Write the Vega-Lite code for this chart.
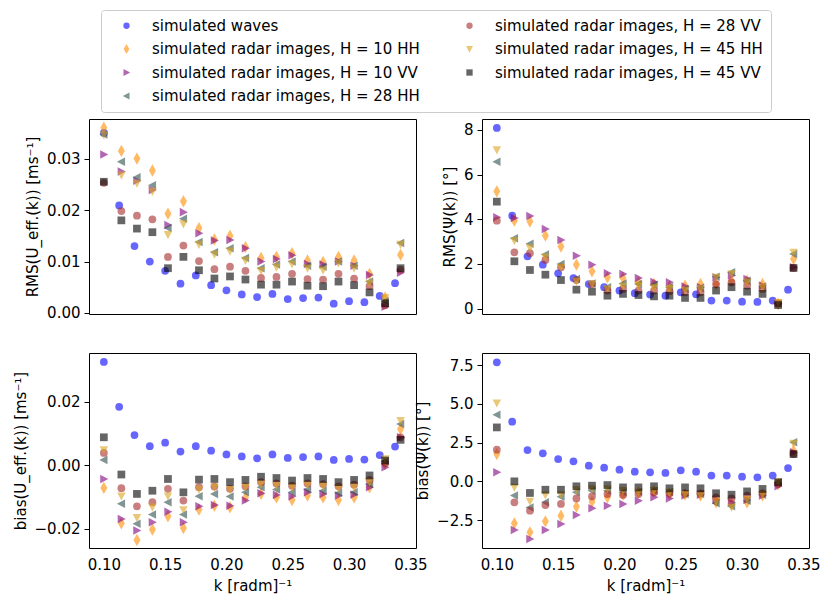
{
  "$schema": "https://vega.github.io/schema/vega-lite/v6.json",
  "background": "white",
  "padding": {"left": 12, "top": 9, "right": 5, "bottom": 5},
  "data": {
    "values": [
      {"series": "simulated waves", "k": 0.1, "rmsU": 0.035, "rmsPsi": 8.09, "biasU": 0.0325, "biasPsi": 7.68},
      {"series": "simulated waves", "k": 0.1125, "rmsU": 0.0209, "rmsPsi": 4.16, "biasU": 0.0184, "biasPsi": 3.85},
      {"series": "simulated waves", "k": 0.125, "rmsU": 0.013, "rmsPsi": 2.34, "biasU": 0.0095, "biasPsi": 2.02},
      {"series": "simulated waves", "k": 0.1375, "rmsU": 0.01, "rmsPsi": 1.97, "biasU": 0.006, "biasPsi": 1.81},
      {"series": "simulated waves", "k": 0.15, "rmsU": 0.0082, "rmsPsi": 1.58, "biasU": 0.0071, "biasPsi": 1.44},
      {"series": "simulated waves", "k": 0.1625, "rmsU": 0.0057, "rmsPsi": 1.37, "biasU": 0.0043, "biasPsi": 1.29},
      {"series": "simulated waves", "k": 0.175, "rmsU": 0.0073, "rmsPsi": 1.1, "biasU": 0.006, "biasPsi": 1.01},
      {"series": "simulated waves", "k": 0.1875, "rmsU": 0.0054, "rmsPsi": 0.96, "biasU": 0.0046, "biasPsi": 0.88},
      {"series": "simulated waves", "k": 0.2, "rmsU": 0.0044, "rmsPsi": 0.81, "biasU": 0.0034, "biasPsi": 0.75},
      {"series": "simulated waves", "k": 0.2125, "rmsU": 0.0036, "rmsPsi": 0.69, "biasU": 0.0028, "biasPsi": 0.62},
      {"series": "simulated waves", "k": 0.225, "rmsU": 0.0031, "rmsPsi": 0.63, "biasU": 0.0022, "biasPsi": 0.58},
      {"series": "simulated waves", "k": 0.2375, "rmsU": 0.0037, "rmsPsi": 0.58, "biasU": 0.0034, "biasPsi": 0.54},
      {"series": "simulated waves", "k": 0.25, "rmsU": 0.0027, "rmsPsi": 0.73, "biasU": 0.0023, "biasPsi": 0.71},
      {"series": "simulated waves", "k": 0.2625, "rmsU": 0.0029, "rmsPsi": 0.64, "biasU": 0.0026, "biasPsi": 0.62},
      {"series": "simulated waves", "k": 0.275, "rmsU": 0.003, "rmsPsi": 0.36, "biasU": 0.0028, "biasPsi": 0.37},
      {"series": "simulated waves", "k": 0.2875, "rmsU": 0.0018, "rmsPsi": 0.36, "biasU": 0.0017, "biasPsi": 0.37},
      {"series": "simulated waves", "k": 0.3, "rmsU": 0.0023, "rmsPsi": 0.31, "biasU": 0.002, "biasPsi": 0.3},
      {"series": "simulated waves", "k": 0.3125, "rmsU": 0.0021, "rmsPsi": 0.3, "biasU": 0.0018, "biasPsi": 0.26},
      {"series": "simulated waves", "k": 0.325, "rmsU": 0.0033, "rmsPsi": 0.36, "biasU": 0.0032, "biasPsi": 0.37},
      {"series": "simulated waves", "k": 0.3375, "rmsU": 0.0058, "rmsPsi": 0.85, "biasU": 0.0059, "biasPsi": 0.86},

      {"series": "simulated radar images, H = 10 HH", "k": 0.1, "rmsU": 0.036, "rmsPsi": 5.25, "biasU": -0.0071, "biasPsi": 1.76},
      {"series": "simulated radar images, H = 10 HH", "k": 0.1143, "rmsU": 0.0315, "rmsPsi": 3.94, "biasU": -0.0182, "biasPsi": -2.71},
      {"series": "simulated radar images, H = 10 HH", "k": 0.127, "rmsU": 0.03, "rmsPsi": 3.9, "biasU": -0.0235, "biasPsi": -3.29},
      {"series": "simulated radar images, H = 10 HH", "k": 0.1396, "rmsU": 0.0277, "rmsPsi": 3.27, "biasU": -0.0202, "biasPsi": -2.58},
      {"series": "simulated radar images, H = 10 HH", "k": 0.1523, "rmsU": 0.0193, "rmsPsi": 2.78, "biasU": -0.016, "biasPsi": -2.22},
      {"series": "simulated radar images, H = 10 HH", "k": 0.1649, "rmsU": 0.0217, "rmsPsi": 1.97, "biasU": -0.0197, "biasPsi": -1.63},
      {"series": "simulated radar images, H = 10 HH", "k": 0.1776, "rmsU": 0.0165, "rmsPsi": 1.67, "biasU": -0.0139, "biasPsi": -1.31},
      {"series": "simulated radar images, H = 10 HH", "k": 0.1902, "rmsU": 0.0143, "rmsPsi": 1.4, "biasU": -0.0127, "biasPsi": -1.03},
      {"series": "simulated radar images, H = 10 HH", "k": 0.2029, "rmsU": 0.015, "rmsPsi": 1.37, "biasU": -0.0132, "biasPsi": -0.86},
      {"series": "simulated radar images, H = 10 HH", "k": 0.2155, "rmsU": 0.0128, "rmsPsi": 1.18, "biasU": -0.0101, "biasPsi": -0.71},
      {"series": "simulated radar images, H = 10 HH", "k": 0.2282, "rmsU": 0.0107, "rmsPsi": 1.1, "biasU": -0.009, "biasPsi": -0.65},
      {"series": "simulated radar images, H = 10 HH", "k": 0.2408, "rmsU": 0.0109, "rmsPsi": 0.99, "biasU": -0.0101, "biasPsi": -0.82},
      {"series": "simulated radar images, H = 10 HH", "k": 0.2535, "rmsU": 0.0116, "rmsPsi": 1.03, "biasU": -0.0109, "biasPsi": -0.86},
      {"series": "simulated radar images, H = 10 HH", "k": 0.2661, "rmsU": 0.0102, "rmsPsi": 1.1, "biasU": -0.0095, "biasPsi": -0.92},
      {"series": "simulated radar images, H = 10 HH", "k": 0.2788, "rmsU": 0.0099, "rmsPsi": 1.1, "biasU": -0.0101, "biasPsi": -1.35},
      {"series": "simulated radar images, H = 10 HH", "k": 0.2914, "rmsU": 0.0109, "rmsPsi": 1.25, "biasU": -0.0109, "biasPsi": -1.46},
      {"series": "simulated radar images, H = 10 HH", "k": 0.3041, "rmsU": 0.0102, "rmsPsi": 1.25, "biasU": -0.0101, "biasPsi": -1.35},
      {"series": "simulated radar images, H = 10 HH", "k": 0.3167, "rmsU": 0.0076, "rmsPsi": 1.1, "biasU": -0.0069, "biasPsi": -0.92},
      {"series": "simulated radar images, H = 10 HH", "k": 0.3294, "rmsU": 0.003, "rmsPsi": 0.21, "biasU": 0.0004, "biasPsi": -0.17},
      {"series": "simulated radar images, H = 10 HH", "k": 0.342, "rmsU": 0.0113, "rmsPsi": 2.22, "biasU": 0.0114, "biasPsi": 1.98},

      {"series": "simulated radar images, H = 10 VV", "k": 0.1, "rmsU": 0.0308, "rmsPsi": 4.09, "biasU": -0.0043, "biasPsi": 0.58},
      {"series": "simulated radar images, H = 10 VV", "k": 0.1143, "rmsU": 0.0275, "rmsPsi": 4.06, "biasU": -0.0169, "biasPsi": -3.14},
      {"series": "simulated radar images, H = 10 VV", "k": 0.127, "rmsU": 0.0257, "rmsPsi": 4.15, "biasU": -0.0205, "biasPsi": -3.72},
      {"series": "simulated radar images, H = 10 VV", "k": 0.1396, "rmsU": 0.0239, "rmsPsi": 3.57, "biasU": -0.0179, "biasPsi": -3.14},
      {"series": "simulated radar images, H = 10 VV", "k": 0.1523, "rmsU": 0.0171, "rmsPsi": 3.07, "biasU": -0.0146, "biasPsi": -2.75},
      {"series": "simulated radar images, H = 10 VV", "k": 0.1649, "rmsU": 0.0196, "rmsPsi": 2.37, "biasU": -0.0179, "biasPsi": -2.17},
      {"series": "simulated radar images, H = 10 VV", "k": 0.1776, "rmsU": 0.0155, "rmsPsi": 1.97, "biasU": -0.0129, "biasPsi": -1.74},
      {"series": "simulated radar images, H = 10 VV", "k": 0.1902, "rmsU": 0.0141, "rmsPsi": 1.58, "biasU": -0.0125, "biasPsi": -1.57},
      {"series": "simulated radar images, H = 10 VV", "k": 0.2029, "rmsU": 0.0142, "rmsPsi": 1.55, "biasU": -0.0127, "biasPsi": -1.46},
      {"series": "simulated radar images, H = 10 VV", "k": 0.2155, "rmsU": 0.0126, "rmsPsi": 1.37, "biasU": -0.0111, "biasPsi": -1.25},
      {"series": "simulated radar images, H = 10 VV", "k": 0.2282, "rmsU": 0.01, "rmsPsi": 1.19, "biasU": -0.0088, "biasPsi": -1.03},
      {"series": "simulated radar images, H = 10 VV", "k": 0.2408, "rmsU": 0.0105, "rmsPsi": 1.18, "biasU": -0.0093, "biasPsi": -1.1},
      {"series": "simulated radar images, H = 10 VV", "k": 0.2535, "rmsU": 0.0112, "rmsPsi": 0.99, "biasU": -0.0097, "biasPsi": -0.92},
      {"series": "simulated radar images, H = 10 VV", "k": 0.2661, "rmsU": 0.0095, "rmsPsi": 0.96, "biasU": -0.0085, "biasPsi": -0.86},
      {"series": "simulated radar images, H = 10 VV", "k": 0.2788, "rmsU": 0.0094, "rmsPsi": 1.4, "biasU": -0.009, "biasPsi": -1.2},
      {"series": "simulated radar images, H = 10 VV", "k": 0.2914, "rmsU": 0.01, "rmsPsi": 1.48, "biasU": -0.0095, "biasPsi": -1.35},
      {"series": "simulated radar images, H = 10 VV", "k": 0.3041, "rmsU": 0.0092, "rmsPsi": 1.33, "biasU": -0.0092, "biasPsi": -1.2},
      {"series": "simulated radar images, H = 10 VV", "k": 0.3167, "rmsU": 0.0074, "rmsPsi": 1.03, "biasU": -0.0069, "biasPsi": -0.92},
      {"series": "simulated radar images, H = 10 VV", "k": 0.3294, "rmsU": 0.0012, "rmsPsi": 0.24, "biasU": -0.0006, "biasPsi": -0.32},
      {"series": "simulated radar images, H = 10 VV", "k": 0.342, "rmsU": 0.0078, "rmsPsi": 1.85, "biasU": 0.0088, "biasPsi": 1.87},

      {"series": "simulated radar images, H = 28 HH", "k": 0.1, "rmsU": 0.0347, "rmsPsi": 6.58, "biasU": 0.0017, "biasPsi": 4.3},
      {"series": "simulated radar images, H = 28 HH", "k": 0.1143, "rmsU": 0.0294, "rmsPsi": 3.15, "biasU": -0.0121, "biasPsi": -0.92},
      {"series": "simulated radar images, H = 28 HH", "k": 0.127, "rmsU": 0.0264, "rmsPsi": 2.9, "biasU": -0.0184, "biasPsi": -1.68},
      {"series": "simulated radar images, H = 28 HH", "k": 0.1396, "rmsU": 0.0248, "rmsPsi": 2.42, "biasU": -0.0155, "biasPsi": -1.35},
      {"series": "simulated radar images, H = 28 HH", "k": 0.1523, "rmsU": 0.0165, "rmsPsi": 2.0, "biasU": -0.0116, "biasPsi": -0.99},
      {"series": "simulated radar images, H = 28 HH", "k": 0.1649, "rmsU": 0.0183, "rmsPsi": 1.33, "biasU": -0.0155, "biasPsi": -0.71},
      {"series": "simulated radar images, H = 28 HH", "k": 0.1776, "rmsU": 0.0138, "rmsPsi": 1.13, "biasU": -0.0097, "biasPsi": -0.6},
      {"series": "simulated radar images, H = 28 HH", "k": 0.1902, "rmsU": 0.0118, "rmsPsi": 0.96, "biasU": -0.009, "biasPsi": -0.6},
      {"series": "simulated radar images, H = 28 HH", "k": 0.2029, "rmsU": 0.0126, "rmsPsi": 1.13, "biasU": -0.0098, "biasPsi": -0.71},
      {"series": "simulated radar images, H = 28 HH", "k": 0.2155, "rmsU": 0.0107, "rmsPsi": 1.1, "biasU": -0.0085, "biasPsi": -0.67},
      {"series": "simulated radar images, H = 28 HH", "k": 0.2282, "rmsU": 0.0087, "rmsPsi": 1.07, "biasU": -0.0069, "biasPsi": -0.6},
      {"series": "simulated radar images, H = 28 HH", "k": 0.2408, "rmsU": 0.0094, "rmsPsi": 0.96, "biasU": -0.0076, "biasPsi": -0.71},
      {"series": "simulated radar images, H = 28 HH", "k": 0.2535, "rmsU": 0.01, "rmsPsi": 0.88, "biasU": -0.0085, "biasPsi": -0.82},
      {"series": "simulated radar images, H = 28 HH", "k": 0.2661, "rmsU": 0.0092, "rmsPsi": 0.93, "biasU": -0.0076, "biasPsi": -0.82},
      {"series": "simulated radar images, H = 28 HH", "k": 0.2788, "rmsU": 0.009, "rmsPsi": 1.43, "biasU": -0.008, "biasPsi": -1.42},
      {"series": "simulated radar images, H = 28 HH", "k": 0.2914, "rmsU": 0.01, "rmsPsi": 1.63, "biasU": -0.0087, "biasPsi": -1.61},
      {"series": "simulated radar images, H = 28 HH", "k": 0.3041, "rmsU": 0.0092, "rmsPsi": 1.25, "biasU": -0.0085, "biasPsi": -1.25},
      {"series": "simulated radar images, H = 28 HH", "k": 0.3167, "rmsU": 0.0061, "rmsPsi": 0.99, "biasU": -0.0059, "biasPsi": -0.86},
      {"series": "simulated radar images, H = 28 HH", "k": 0.3294, "rmsU": 0.0023, "rmsPsi": 0.24, "biasU": 0.0013, "biasPsi": -0.06},
      {"series": "simulated radar images, H = 28 HH", "k": 0.342, "rmsU": 0.0136, "rmsPsi": 2.45, "biasU": 0.013, "biasPsi": 2.52},

      {"series": "simulated radar images, H = 28 VV", "k": 0.1, "rmsU": 0.0253, "rmsPsi": 3.94, "biasU": 0.0039, "biasPsi": 2.04},
      {"series": "simulated radar images, H = 28 VV", "k": 0.1143, "rmsU": 0.0198, "rmsPsi": 2.52, "biasU": -0.0072, "biasPsi": -1.35},
      {"series": "simulated radar images, H = 28 VV", "k": 0.127, "rmsU": 0.0189, "rmsPsi": 2.48, "biasU": -0.0129, "biasPsi": -1.89},
      {"series": "simulated radar images, H = 28 VV", "k": 0.1396, "rmsU": 0.0182, "rmsPsi": 2.18, "biasU": -0.0116, "biasPsi": -1.53},
      {"series": "simulated radar images, H = 28 VV", "k": 0.1523, "rmsU": 0.0109, "rmsPsi": 1.85, "biasU": -0.0074, "biasPsi": -1.46},
      {"series": "simulated radar images, H = 28 VV", "k": 0.1649, "rmsU": 0.0131, "rmsPsi": 1.28, "biasU": -0.0111, "biasPsi": -1.1},
      {"series": "simulated radar images, H = 28 VV", "k": 0.1776, "rmsU": 0.0101, "rmsPsi": 1.1, "biasU": -0.0069, "biasPsi": -0.97},
      {"series": "simulated radar images, H = 28 VV", "k": 0.1902, "rmsU": 0.0085, "rmsPsi": 0.81, "biasU": -0.0067, "biasPsi": -0.82},
      {"series": "simulated radar images, H = 28 VV", "k": 0.2029, "rmsU": 0.009, "rmsPsi": 0.88, "biasU": -0.0074, "biasPsi": -0.88},
      {"series": "simulated radar images, H = 28 VV", "k": 0.2155, "rmsU": 0.0082, "rmsPsi": 0.81, "biasU": -0.0066, "biasPsi": -0.82},
      {"series": "simulated radar images, H = 28 VV", "k": 0.2282, "rmsU": 0.0068, "rmsPsi": 0.81, "biasU": -0.0053, "biasPsi": -0.71},
      {"series": "simulated radar images, H = 28 VV", "k": 0.2408, "rmsU": 0.007, "rmsPsi": 0.78, "biasU": -0.0057, "biasPsi": -0.77},
      {"series": "simulated radar images, H = 28 VV", "k": 0.2535, "rmsU": 0.0076, "rmsPsi": 0.73, "biasU": -0.0064, "biasPsi": -0.77},
      {"series": "simulated radar images, H = 28 VV", "k": 0.2661, "rmsU": 0.0066, "rmsPsi": 0.73, "biasU": -0.0057, "biasPsi": -0.77},
      {"series": "simulated radar images, H = 28 VV", "k": 0.2788, "rmsU": 0.0065, "rmsPsi": 1.1, "biasU": -0.0059, "biasPsi": -1.03},
      {"series": "simulated radar images, H = 28 VV", "k": 0.2914, "rmsU": 0.0076, "rmsPsi": 1.18, "biasU": -0.0066, "biasPsi": -1.1},
      {"series": "simulated radar images, H = 28 VV", "k": 0.3041, "rmsU": 0.0067, "rmsPsi": 1.03, "biasU": -0.0061, "biasPsi": -0.92},
      {"series": "simulated radar images, H = 28 VV", "k": 0.3167, "rmsU": 0.0052, "rmsPsi": 0.88, "biasU": -0.0046, "biasPsi": -0.77},
      {"series": "simulated radar images, H = 28 VV", "k": 0.3294, "rmsU": 0.0015, "rmsPsi": 0.24, "biasU": 0.0007, "biasPsi": -0.17},
      {"series": "simulated radar images, H = 28 VV", "k": 0.342, "rmsU": 0.0084, "rmsPsi": 1.82, "biasU": 0.0088, "biasPsi": 1.76},

      {"series": "simulated radar images, H = 45 HH", "k": 0.1, "rmsU": 0.0346, "rmsPsi": 7.1, "biasU": 0.0048, "biasPsi": 5.05},
      {"series": "simulated radar images, H = 45 HH", "k": 0.1143, "rmsU": 0.0268, "rmsPsi": 3.04, "biasU": -0.0097, "biasPsi": -0.39},
      {"series": "simulated radar images, H = 45 HH", "k": 0.127, "rmsU": 0.0252, "rmsPsi": 2.72, "biasU": -0.0165, "biasPsi": -1.29},
      {"series": "simulated radar images, H = 45 HH", "k": 0.1396, "rmsU": 0.0236, "rmsPsi": 2.3, "biasU": -0.0132, "biasPsi": -0.88},
      {"series": "simulated radar images, H = 45 HH", "k": 0.1523, "rmsU": 0.0152, "rmsPsi": 1.85, "biasU": -0.0097, "biasPsi": -0.86},
      {"series": "simulated radar images, H = 45 HH", "k": 0.1649, "rmsU": 0.0173, "rmsPsi": 1.22, "biasU": -0.014, "biasPsi": -0.56},
      {"series": "simulated radar images, H = 45 HH", "k": 0.1776, "rmsU": 0.0133, "rmsPsi": 1.1, "biasU": -0.0076, "biasPsi": -0.49},
      {"series": "simulated radar images, H = 45 HH", "k": 0.1902, "rmsU": 0.0114, "rmsPsi": 0.88, "biasU": -0.0069, "biasPsi": -0.49},
      {"series": "simulated radar images, H = 45 HH", "k": 0.2029, "rmsU": 0.012, "rmsPsi": 0.99, "biasU": -0.0077, "biasPsi": -0.6},
      {"series": "simulated radar images, H = 45 HH", "k": 0.2155, "rmsU": 0.0102, "rmsPsi": 1.03, "biasU": -0.0069, "biasPsi": -0.71},
      {"series": "simulated radar images, H = 45 HH", "k": 0.2282, "rmsU": 0.0082, "rmsPsi": 0.93, "biasU": -0.0059, "biasPsi": -0.6},
      {"series": "simulated radar images, H = 45 HH", "k": 0.2408, "rmsU": 0.0089, "rmsPsi": 0.88, "biasU": -0.0064, "biasPsi": -0.71},
      {"series": "simulated radar images, H = 45 HH", "k": 0.2535, "rmsU": 0.0095, "rmsPsi": 0.81, "biasU": -0.0069, "biasPsi": -0.86},
      {"series": "simulated radar images, H = 45 HH", "k": 0.2661, "rmsU": 0.0087, "rmsPsi": 0.88, "biasU": -0.0062, "biasPsi": -0.92},
      {"series": "simulated radar images, H = 45 HH", "k": 0.2788, "rmsU": 0.0083, "rmsPsi": 1.4, "biasU": -0.0066, "biasPsi": -1.29},
      {"series": "simulated radar images, H = 45 HH", "k": 0.2914, "rmsU": 0.0097, "rmsPsi": 1.55, "biasU": -0.0072, "biasPsi": -1.68},
      {"series": "simulated radar images, H = 45 HH", "k": 0.3041, "rmsU": 0.0087, "rmsPsi": 1.18, "biasU": -0.0069, "biasPsi": -1.18},
      {"series": "simulated radar images, H = 45 HH", "k": 0.3167, "rmsU": 0.0058, "rmsPsi": 0.96, "biasU": -0.0053, "biasPsi": -0.86},
      {"series": "simulated radar images, H = 45 HH", "k": 0.3294, "rmsU": 0.0029, "rmsPsi": 0.27, "biasU": 0.002, "biasPsi": -0.06},
      {"series": "simulated radar images, H = 45 HH", "k": 0.342, "rmsU": 0.0133, "rmsPsi": 2.52, "biasU": 0.014, "biasPsi": 2.45},

      {"series": "simulated radar images, H = 45 VV", "k": 0.1, "rmsU": 0.0255, "rmsPsi": 4.79, "biasU": 0.0088, "biasPsi": 3.48},
      {"series": "simulated radar images, H = 45 VV", "k": 0.1143, "rmsU": 0.018, "rmsPsi": 2.12, "biasU": -0.0029, "biasPsi": 0.0},
      {"series": "simulated radar images, H = 45 VV", "k": 0.127, "rmsU": 0.0164, "rmsPsi": 1.73, "biasU": -0.009, "biasPsi": -0.75},
      {"series": "simulated radar images, H = 45 VV", "k": 0.1396, "rmsU": 0.0157, "rmsPsi": 1.52, "biasU": -0.008, "biasPsi": -0.54},
      {"series": "simulated radar images, H = 45 VV", "k": 0.1523, "rmsU": 0.0087, "rmsPsi": 1.28, "biasU": -0.0043, "biasPsi": -0.54},
      {"series": "simulated radar images, H = 45 VV", "k": 0.1649, "rmsU": 0.0109, "rmsPsi": 0.85, "biasU": -0.0085, "biasPsi": -0.32},
      {"series": "simulated radar images, H = 45 VV", "k": 0.1776, "rmsU": 0.0083, "rmsPsi": 0.76, "biasU": -0.0045, "biasPsi": -0.28},
      {"series": "simulated radar images, H = 45 VV", "k": 0.1902, "rmsU": 0.0067, "rmsPsi": 0.58, "biasU": -0.0043, "biasPsi": -0.24},
      {"series": "simulated radar images, H = 45 VV", "k": 0.2029, "rmsU": 0.0071, "rmsPsi": 0.66, "biasU": -0.0053, "biasPsi": -0.39},
      {"series": "simulated radar images, H = 45 VV", "k": 0.2155, "rmsU": 0.0065, "rmsPsi": 0.61, "biasU": -0.0046, "biasPsi": -0.39},
      {"series": "simulated radar images, H = 45 VV", "k": 0.2282, "rmsU": 0.0055, "rmsPsi": 0.55, "biasU": -0.0036, "biasPsi": -0.32},
      {"series": "simulated radar images, H = 45 VV", "k": 0.2408, "rmsU": 0.0055, "rmsPsi": 0.58, "biasU": -0.004, "biasPsi": -0.45},
      {"series": "simulated radar images, H = 45 VV", "k": 0.2535, "rmsU": 0.0061, "rmsPsi": 0.48, "biasU": -0.0048, "biasPsi": -0.39},
      {"series": "simulated radar images, H = 45 VV", "k": 0.2661, "rmsU": 0.0053, "rmsPsi": 0.48, "biasU": -0.004, "biasPsi": -0.45},
      {"series": "simulated radar images, H = 45 VV", "k": 0.2788, "rmsU": 0.0052, "rmsPsi": 0.81, "biasU": -0.0043, "biasPsi": -0.77},
      {"series": "simulated radar images, H = 45 VV", "k": 0.2914, "rmsU": 0.0061, "rmsPsi": 0.96, "biasU": -0.0053, "biasPsi": -0.86},
      {"series": "simulated radar images, H = 45 VV", "k": 0.3041, "rmsU": 0.0054, "rmsPsi": 0.76, "biasU": -0.0046, "biasPsi": -0.65},
      {"series": "simulated radar images, H = 45 VV", "k": 0.3167, "rmsU": 0.004, "rmsPsi": 0.66, "biasU": -0.0032, "biasPsi": -0.49},
      {"series": "simulated radar images, H = 45 VV", "k": 0.3294, "rmsU": 0.0019, "rmsPsi": 0.16, "biasU": 0.0015, "biasPsi": -0.06},
      {"series": "simulated radar images, H = 45 VV", "k": 0.342, "rmsU": 0.0087, "rmsPsi": 1.82, "biasU": 0.008, "biasPsi": 1.76}
    ]
  },
  "columns": 2,
  "spacing": {"row": 39, "column": 66},
  "bounds": "flush",
  "resolve": {"scale": {"x": "independent", "y": "independent"}},
  "concat": [
    {
      "width": 327,
      "height": 195,
      "mark": {"type": "point", "filled": true, "opacity": 0.6, "size": 60},
      "encoding": {
        "x": {"field": "k", "type": "quantitative", "scale": {"domain": [0.0879, 0.3546], "nice": false, "zero": false}, "axis": null},
        "y": {"field": "rmsU", "type": "quantitative", "scale": {"domain": [-0.0002, 0.0377], "nice": false, "zero": false},
              "axis": {"title": "RMS(U_eff.(k)) [ms⁻¹]", "values": [0, 0.01, 0.02, 0.03], "format": ".2f"}},
        "color": {"field": "series", "type": "nominal",
          "scale": {"domain": ["simulated waves", "simulated radar images, H = 10 HH", "simulated radar images, H = 10 VV", "simulated radar images, H = 28 HH", "simulated radar images, H = 28 VV", "simulated radar images, H = 45 HH", "simulated radar images, H = 45 VV"],
                    "range": ["blue", "darkorange", "purple", "darkslategray", "brown", "goldenrod", "black"]},
          "legend": {"title": null, "orient": "none", "legendX": 12, "legendY": -109, "columns": 2}},
        "shape": {"field": "series", "type": "nominal",
          "scale": {"domain": ["simulated waves", "simulated radar images, H = 10 HH", "simulated radar images, H = 10 VV", "simulated radar images, H = 28 HH", "simulated radar images, H = 28 VV", "simulated radar images, H = 45 HH", "simulated radar images, H = 45 VV"],
                    "range": ["circle", "M0,-1.6L0.9,0L0,1.6L-0.9,0Z", "M-0.95,-1.1L1.15,0L-0.95,1.1Z", "M0.95,-1.1L-1.15,0L0.95,1.1Z", "circle", "M-1.1,-0.95L1.1,-0.95L0,1.15Z", "square"]},
          "legend": {"title": null, "orient": "none", "legendX": 12, "legendY": -109, "columns": 2}}
      }
    },
    {
      "width": 327,
      "height": 195,
      "mark": {"type": "point", "filled": true, "opacity": 0.6, "size": 60},
      "encoding": {
        "x": {"field": "k", "type": "quantitative", "scale": {"domain": [0.0879, 0.3546], "nice": false, "zero": false}, "axis": null},
        "y": {"field": "rmsPsi", "type": "quantitative", "scale": {"domain": [-0.24, 8.49], "nice": false, "zero": false},
              "axis": {"title": "RMS(Ψ(k)) [°]", "values": [0, 2, 4, 6, 8], "format": "d"}},
        "color": {"field": "series", "type": "nominal"},
        "shape": {"field": "series", "type": "nominal"}
      }
    },
    {
      "width": 327,
      "height": 195,
      "mark": {"type": "point", "filled": true, "opacity": 0.6, "size": 60},
      "encoding": {
        "x": {"field": "k", "type": "quantitative", "scale": {"domain": [0.0879, 0.3546], "nice": false, "zero": false},
              "axis": {"title": "k [radm]⁻¹", "values": [0.1, 0.15, 0.2, 0.25, 0.3, 0.35], "format": ".2f", "ticks": false, "labelPadding": 9}},
        "y": {"field": "biasU", "type": "quantitative", "scale": {"domain": [-0.026, 0.0353], "nice": false, "zero": false},
              "axis": {"title": "bias(U_eff.(k)) [ms⁻¹]", "values": [-0.02, 0, 0.02], "format": ".2f"}},
        "color": {"field": "series", "type": "nominal"},
        "shape": {"field": "series", "type": "nominal"}
      }
    },
    {
      "width": 327,
      "height": 195,
      "mark": {"type": "point", "filled": true, "opacity": 0.6, "size": 60},
      "encoding": {
        "x": {"field": "k", "type": "quantitative", "scale": {"domain": [0.0879, 0.3546], "nice": false, "zero": false},
              "axis": {"title": "k [radm]⁻¹", "values": [0.1, 0.15, 0.2, 0.25, 0.3, 0.35], "format": ".2f", "ticks": false, "labelPadding": 9}},
        "y": {"field": "biasPsi", "type": "quantitative", "scale": {"domain": [-4.3, 8.28], "nice": false, "zero": false},
              "axis": {"title": "bias(Ψ(k)) [°]", "values": [-2.5, 0, 2.5, 5, 7.5], "format": ".1f"}},
        "color": {"field": "series", "type": "nominal"},
        "shape": {"field": "series", "type": "nominal"}
      }
    }
  ],
  "config": {
    "font": "DejaVu Sans",
    "view": {"stroke": "black", "strokeWidth": 1},
    "axis": {
      "grid": false, "domain": false, "ticks": true, "tickColor": "black", "tickSize": 5,
      "labelColor": "black", "labelFont": "DejaVu Sans", "labelFontSize": 15, "labelPadding": 4,
      "titleColor": "black", "titleFont": "DejaVu Sans", "titleFontSize": 15, "titleFontWeight": "normal", "titlePadding": 6
    },
    "legend": {
      "labelFont": "DejaVu Sans", "labelFontSize": 15, "labelColor": "black", "labelLimit": 400,
      "symbolSize": 40, "symbolOpacity": 0.6, "symbolStrokeWidth": 0, "symbolOffset": 10, "labelOffset": 18,
      "rowPadding": 7.5, "columnPadding": 32, "padding": 8,
      "strokeColor": "#cccccc", "fillColor": "white", "cornerRadius": 3
    }
  }
}
